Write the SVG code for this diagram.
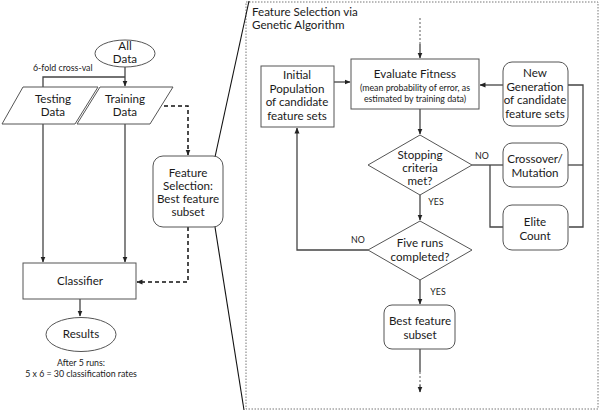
<svg xmlns="http://www.w3.org/2000/svg" width="600" height="413" viewBox="0 0 600 413">
<defs>
<style>
text{font-family:Lato,"Open Sans","Liberation Sans",sans-serif;fill:#1a1a1a;font-size:11.6px;text-anchor:middle}
.s{font-size:8.8px}
.l{text-anchor:start}
.n{fill:#fff;stroke:#555;stroke-width:1}
.c{fill:none;stroke:#444;stroke-width:1.3}
.d{fill:none;stroke:#111;stroke-width:1.5;stroke-dasharray:4,3}
.dt{fill:none;stroke:#777;stroke-width:1.2;stroke-dasharray:2,2}
</style>
<marker id="a" viewBox="0 0 6 6" refX="5.5" refY="3" markerWidth="6" markerHeight="6" orient="auto" markerUnits="userSpaceOnUse"><path d="M0,0.5L6,3L0,5.5z" fill="#222"/></marker>
</defs>
<rect width="600" height="413" fill="#fff"/>
<rect x="246" y="2" width="352" height="407" fill="none" stroke="#777" stroke-width="1" stroke-dasharray="1.5,1.5"/>
<g id="connectors">
<line x1="215" y1="157" x2="249" y2="1" stroke="#111" stroke-width="1.1"/>
<line x1="215" y1="227" x2="244" y2="410" stroke="#111" stroke-width="1.1"/>
<path class="c" d="M125,67V86" marker-end="url(#a)"/>
<path class="c" d="M43,87V77H125"/>
<path class="d" d="M164,106H188V155" marker-end="url(#a)"/>
<path class="c" d="M43,124V262" marker-end="url(#a)"/>
<path class="c" d="M125,124V262" marker-end="url(#a)"/>
<path class="d" d="M188,227V282H137" marker-end="url(#a)"/>
<path class="c" d="M80,299V316" marker-end="url(#a)"/>
<path class="dt" d="M420,18V44"/>
<path class="c" d="M420,44V58" marker-end="url(#a)"/>
<path class="c" d="M334,82H350" marker-end="url(#a)"/>
<path class="c" d="M503,85H480" marker-end="url(#a)"/>
<path class="c" d="M568,85H583V227H569"/>
<path class="c" d="M568,165H583"/>
<path class="c" d="M420,109V134" marker-end="url(#a)"/>
<path class="c" d="M472,165H503"/>
<path class="c" d="M490,165V227H503"/>
<path class="c" d="M420,195V220" marker-end="url(#a)"/>
<path class="c" d="M368,250H297V128" marker-end="url(#a)"/>
<path class="c" d="M420,280V304" marker-end="url(#a)"/>
<path class="c" d="M420,349V372"/>
<path class="dt" d="M420,372V385"/>
<path class="c" d="M420,385V392" marker-end="url(#a)"/>
</g>
<text x="33" y="71" class="s l">6-fold cross-val</text>
<text x="482" y="159" class="s">NO</text>
<text x="436" y="205" class="s">YES</text>
<text x="358" y="243" class="s">NO</text>
<text x="438" y="295" class="s">YES</text>
<text x="252" y="16" class="l">Feature Selection via</text>
<text x="252" y="29" class="l">Genetic Algorithm</text>
<g id="all-data"><ellipse class="n" cx="125" cy="53.5" rx="30" ry="13.5"/><text x="125" y="50">All</text><text x="125" y="63">Data</text></g>
<g id="testing-data"><path class="n" d="M23,87H98L75,124H2z"/><text x="53" y="103">Testing</text><text x="53" y="116">Data</text></g>
<g id="training-data"><path class="n" d="M100,87H173L150,124H77z"/><text x="125" y="103">Training</text><text x="125" y="116">Data</text></g>
<g id="feature-selection"><rect class="n" x="153" y="156" width="70" height="71" rx="10"/><text x="188" y="177">Feature</text><text x="188" y="190">Selection:</text><text x="188" y="203">Best feature</text><text x="188" y="216">subset</text></g>
<g id="classifier"><rect class="n" x="23" y="263" width="113" height="36"/><text x="80" y="285">Classifier</text></g>
<g id="results"><ellipse class="n" cx="81" cy="334.5" rx="35" ry="17"/><text x="81" y="338">Results</text></g>
<text x="81" y="366" class="s">After 5 runs:</text>
<text x="81" y="377" class="s">5 x 6 = 30 classification rates</text>
<g id="initial-population"><rect class="n" x="261" y="66" width="73" height="61"/><text x="297" y="79">Initial</text><text x="297" y="93">Population</text><text x="297" y="106">of candidate</text><text x="297" y="120">feature sets</text></g>
<g id="evaluate-fitness"><rect class="n" x="351" y="59" width="128" height="50"/><text x="415" y="78">Evaluate Fitness</text><text x="415" y="91" class="s">(mean probability of error, as</text><text x="415" y="102" class="s">estimated by training data)</text></g>
<g id="new-generation"><rect class="n" x="503" y="62" width="65" height="64" rx="9"/><text x="535" y="77">New</text><text x="535" y="91">Generation</text><text x="535" y="104">of candidate</text><text x="535" y="118">feature sets</text></g>
<g id="stopping"><path class="n" d="M420,135L472,165L420,195L368,165z"/><text x="420" y="159">Stopping</text><text x="420" y="172">criteria</text><text x="420" y="185">met?</text></g>
<g id="crossover"><rect class="n" x="503" y="143" width="65" height="44" rx="9"/><text x="535" y="163">Crossover/</text><text x="535" y="177">Mutation</text></g>
<g id="elite-count"><rect class="n" x="503" y="205" width="65" height="45" rx="9"/><text x="535" y="226">Elite</text><text x="535" y="240">Count</text></g>
<g id="five-runs"><path class="n" d="M420,221L472,250L420,280L368,250z"/><text x="420" y="247">Five runs</text><text x="420" y="261">completed?</text></g>
<g id="best-subset"><rect class="n" x="384" y="305" width="71" height="44" rx="8"/><text x="420" y="325">Best feature</text><text x="420" y="339">subset</text></g>
</svg>
